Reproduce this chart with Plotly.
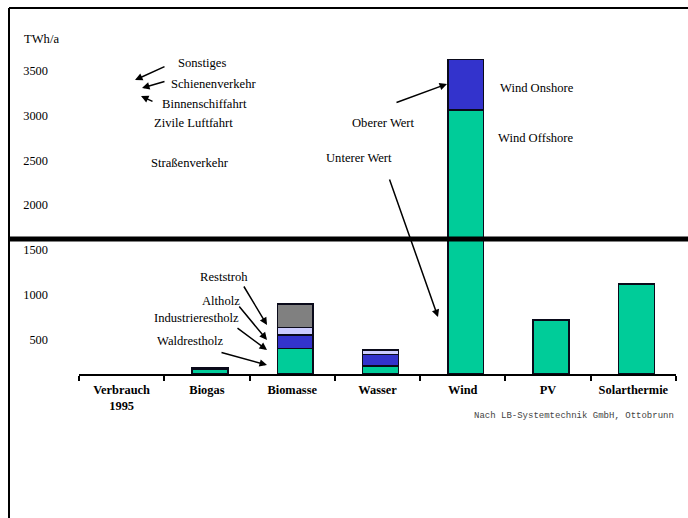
import plotly.graph_objects as go

# ---- data (TWh/a) ----
categories = ["Verbrauch<br>1995", "Biogas", "Biomasse", "Wasser", "Wind", "PV", "Solarthermie"]
basis_wert = [None, 55, 287, 89, 2950, 604, 1007]     # Waldrestholz / Wind Offshore / unterer Wert
zweiter_wert = [None, 18, 149, 131, 562, None, None]  # Industrierestholz / Wind Onshore
dritter_wert = [None, None, 82, 48, None, None, None]  # Altholz
vierter_wert = [None, None, 265, None, None, None, None]  # Reststroh
y_ticks = [500, 1000, 1500, 2000, 2500, 3000, 3500]

# ---- page geometry ----
W, H = 688, 518
ML, MR, MT, MB = 79, 12, 16, 144
Y_MAX = 4000
SERIF = "Liberation Serif, Times New Roman, serif"


def paper(xp, yp):
    """Convert page pixel position to paper coordinates."""
    return (xp - ML) / (W - ML - MR), 1 - (yp - MT) / (H - MT - MB)


series = [
    (basis_wert, "#00CC99"),
    (zweiter_wert, "#3333CC"),
    (dritter_wert, "#CCCCFF"),
    (vierter_wert, "#808080"),
]

fig = go.Figure()
for values, color in series:
    fig.add_trace(go.Bar(
        x=categories, y=values,
        marker=dict(color=color, line=dict(color="#0a0a1a", width=1.5)),
        width=0.42, offset=-0.175,
        showlegend=False, hoverinfo="skip",
    ))

annotations = []


def label(text, xp, yp, size=12.6, anchor="center", color="black", family=SERIF):
    px, py = paper(xp, yp)
    annotations.append(dict(
        x=px, y=py, xref="paper", yref="paper", text=text, showarrow=False,
        xanchor=anchor, yanchor="middle",
        font=dict(family=family, size=size, color=color),
    ))


def arrow(x0, y0, x1, y1):
    hx, hy = paper(x1, y1)
    annotations.append(dict(
        x=hx, y=hy, xref="paper", yref="paper", text="",
        showarrow=True, ax=x0 - x1, ay=y0 - y1, axref="pixel", ayref="pixel",
        arrowhead=2, arrowsize=1, arrowwidth=1.5, arrowcolor="black",
        standoff=0, startstandoff=0,
    ))


# axis unit
label("TWh/a", 22, 39, anchor="left")

# Verbrauch 1995 breakdown
label("Sonstiges", 202, 63)
label("Schienenverkehr", 213, 84)
label("Binnenschiffahrt", 204, 104)
label("Zivile Luftfahrt", 193, 123)
label("Straßenverkehr", 190, 163)
arrow(166, 66, 135, 80)
arrow(166, 81, 142, 88)
arrow(154, 102, 141, 96)

# Wind
label("Wind Onshore", 537, 88)
label("Wind Offshore", 536, 138)
label("Oberer Wert", 383, 123)
label("Unterer Wert", 359, 158)
arrow(395, 103, 447, 84)
arrow(389, 178, 438, 317)

# Biomasse
label("Reststroh", 224, 277)
label("Altholz", 221, 301)
label("Industrierestholz", 196, 318)
label("Waldrestholz", 190, 341)
arrow(243, 285, 267, 325)
arrow(238, 305, 267, 340)
arrow(236, 327, 267, 350)
arrow(220, 352, 267, 365)

# source
label("Nach LB-Systemtechnik GmbH, Ottobrunn", 676, 416, size=9,
      anchor="right", color="#444444", family="Liberation Mono, monospace")

shapes = []
# frame lines (left and top)
lx, ty = paper(9, 8)
_, by = paper(9, 518)
rx, _ = paper(688, 8)
shapes.append(dict(type="line", xref="paper", yref="paper", x0=lx, x1=lx, y0=ty, y1=by,
                   line=dict(color="black", width=2)))
shapes.append(dict(type="line", xref="paper", yref="paper", x0=lx, x1=rx, y0=ty, y1=ty,
                   line=dict(color="black", width=2)))
# axis break line
_, bry = paper(9, 239)
shapes.append(dict(type="line", xref="paper", yref="paper", x0=lx, x1=rx, y0=bry, y1=bry,
                   line=dict(color="black", width=5), layer="above"))

fig.update_layout(
    width=W, height=H,
    margin=dict(l=ML, r=MR, t=MT, b=MB, pad=0),
    barmode="stack",
    plot_bgcolor="white", paper_bgcolor="white",
    font=dict(family=SERIF, size=12, color="black"),
    annotations=annotations,
    shapes=shapes,
    xaxis=dict(
        type="category", range=[-0.5, len(categories) - 0.5],
        showline=True, linecolor="black", linewidth=2,
        ticks="outside", tickson="boundaries", ticklen=5, tickwidth=2, tickcolor="black",
        ticklabelstandoff=3,
        tickfont=dict(family=SERIF, size=12.4, color="black", weight="bold"),
        showgrid=False, zeroline=False, fixedrange=True,
    ),
    yaxis=dict(
        range=[0, Y_MAX], tickvals=y_ticks, ticktext=[str(v) for v in y_ticks],
        showline=False, showgrid=False, zeroline=False, ticks="",
        ticklabelstandoff=30, ticklabelshift=10,
        tickfont=dict(family=SERIF, size=12.4, color="black"),
        fixedrange=True,
    ),
)

fig.write_html("out.html")
